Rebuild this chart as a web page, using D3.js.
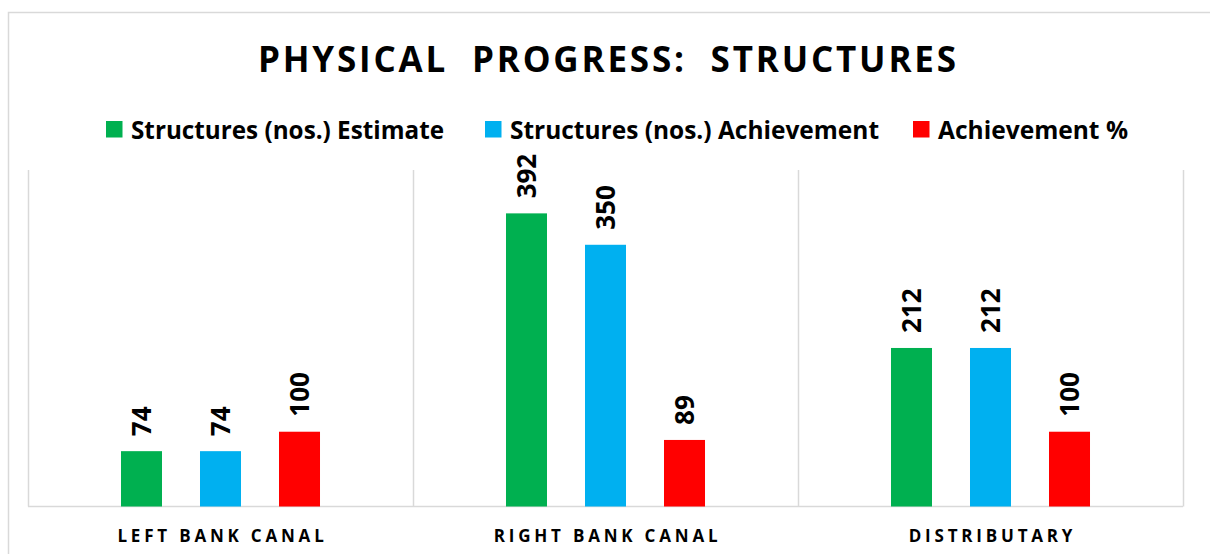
<!DOCTYPE html>
<html>
<head>
<meta charset="utf-8">
<script src="https://cdn.jsdelivr.net/npm/d3@7"></script>
<style>
  body { margin: 0; background: #fff; }
  svg { display: block; font-family: "Open Sans", Lato, sans-serif; }
</style>
</head>
<body>
<div id="chart"></div>
<script>
// chart data
const categories = ['LEFT BANK CANAL', 'RIGHT BANK CANAL', 'DISTRIBUTARY'];
const seriesNames = ['Structures (nos.) Estimate', 'Structures (nos.) Achievement', 'Achievement %'];
const estimate = [74, 392, 212];
const achievement = [74, 350, 212];
const achievementPct = [100, 89, 100];
const seriesColors = ['#00B050', '#00B0F0', '#FF0000'];

const width = 1210, height = 554;
const plot = { left: 28, right: 1183, top: 170, bottom: 506.5 };

const seriesValues = [estimate, achievement, achievementPct];
const rows = categories.map((c, i) => ({
  category: c,
  values: seriesNames.map((s, j) => ({ series: s, value: seriesValues[j][i], color: seriesColors[j] }))
}));

const svg = d3.select('#chart')
  .append('svg')
    .attr('width', width)
    .attr('height', height);

// chart frame
svg.append('rect')
  .attr('x', 8.5).attr('y', 12.5)
  .attr('width', 1220).attr('height', 600)
  .attr('fill', 'none')
  .attr('stroke', '#d9d9d9')
  .attr('stroke-width', 1.5);

// scales
const x0 = d3.scaleBand()
  .domain(categories)
  .range([plot.left, plot.right])
  .paddingInner(0).paddingOuter(0);

const x1 = d3.scaleBand()
  .domain(seriesNames)
  .range([0, x0.bandwidth()])
  .paddingInner(0.481)
  .paddingOuter(1.177);

const y = d3.scaleLinear()
  .domain([0, 450])
  .range([plot.bottom, plot.top]);

// category separators
const bounds = categories.map(c => x0(c)).concat([plot.right]);
svg.append('g')
  .selectAll('line')
  .data(bounds)
  .join('line')
    .attr('x1', d => Math.round(d) + 0.5)
    .attr('x2', d => Math.round(d) + 0.5)
    .attr('y1', plot.top)
    .attr('y2', plot.bottom)
    .attr('stroke', '#d9d9d9')
    .attr('stroke-width', 1.5);

// baseline
svg.append('line')
  .attr('x1', plot.left).attr('x2', plot.right)
  .attr('y1', plot.bottom).attr('y2', plot.bottom)
  .attr('stroke', '#d9d9d9')
  .attr('stroke-width', 1.5);

// bars
const groups = svg.append('g')
  .selectAll('g')
  .data(rows)
  .join('g')
    .attr('transform', d => `translate(${x0(d.category)},0)`);

groups.selectAll('rect')
  .data(d => d.values)
  .join('rect')
    .attr('x', d => x1(d.series))
    .attr('y', d => y(d.value))
    .attr('width', x1.bandwidth())
    .attr('height', d => y(0) - y(d.value))
    .attr('fill', d => d.color);

// rotated value labels
groups.selectAll('text')
  .data(d => d.values)
  .join('text')
    .attr('transform', d => `translate(${x1(d.series) + x1.bandwidth() / 2},${y(d.value) - 15}) rotate(-90)`)
    .attr('dy', '0.36em')
    .attr('font-size', 26)
    .attr('font-weight', 700)
    .attr('fill', '#000')
    .text(d => d.value);

// category labels
svg.append('g')
  .selectAll('text')
  .data(categories)
  .join('text')
    .attr('x', d => x0(d) + x0.bandwidth() / 2 + 2)
    .attr('y', 542)
    .attr('text-anchor', 'middle')
    .attr('font-size', 17)
    .attr('font-weight', 700)
    .attr('letter-spacing', 3.8)
    .attr('fill', '#000')
    .text(d => d);

// title
svg.append('text')
  .attr('x', 608)
  .attr('y', 72)
  .attr('text-anchor', 'middle')
  .attr('font-size', 35)
  .attr('font-weight', 700)
  .attr('letter-spacing', 2)
  .attr('textLength', 700)
  .attr('fill', '#000')
  .text('PHYSICAL  PROGRESS:  STRUCTURES')
  .style('white-space', 'pre');

// legend
const legendX = [106, 485, 913];
const legendW = [313, 369, 190];
const legend = svg.append('g')
  .selectAll('g')
  .data(seriesNames)
  .join('g')
    .attr('transform', (d, i) => `translate(${legendX[i]},121)`);

legend.append('rect')
  .attr('width', 16.5).attr('height', 16.5)
  .attr('fill', (d, i) => seriesColors[i]);

legend.append('text')
  .attr('x', 25)
  .attr('y', 18)
  .attr('font-size', 25)
  .attr('font-weight', 700)
  .attr('textLength', (d, i) => legendW[i])
  .attr('lengthAdjust', 'spacingAndGlyphs')
  .attr('fill', '#000')
  .text(d => d);
</script>
</body>
</html>
